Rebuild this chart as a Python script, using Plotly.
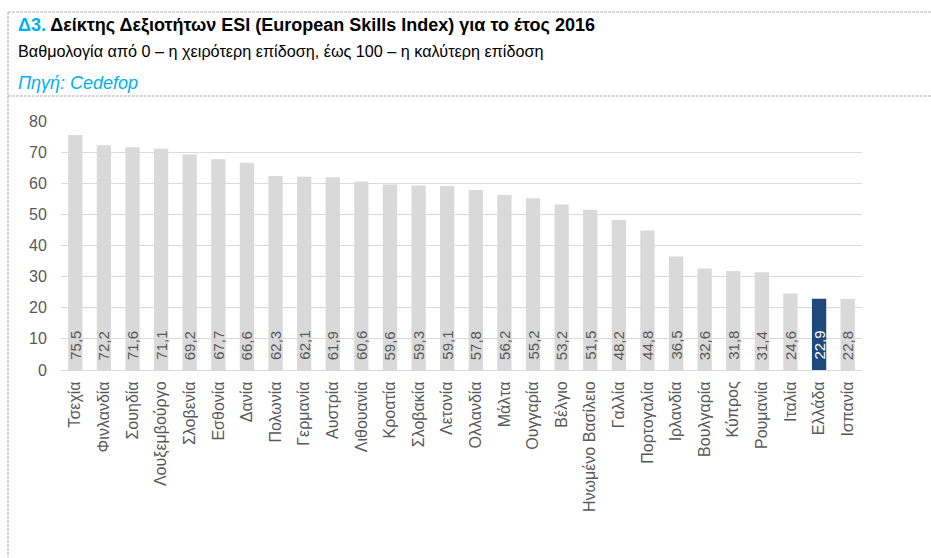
import plotly.graph_objects as go

countries = ["Τσεχία", "Φινλανδία", "Σουηδία", "Λουξεμβούργο", "Σλοβενία", "Εσθονία", "Δανία",
             "Πολωνία", "Γερμανία", "Αυστρία", "Λιθουανία", "Κροατία", "Σλοβακία", "Λετονία",
             "Ολλανδία", "Μάλτα", "Ουγγαρία", "Βέλγιο", "Ηνωμένο Βασίλειο", "Γαλλία", "Πορτογαλία",
             "Ιρλανδία", "Βουλγαρία", "Κύπρος", "Ρουμανία", "Ιταλία", "Ελλάδα", "Ισπανία"]
values = [75.5, 72.2, 71.6, 71.1, 69.2, 67.7, 66.6, 62.3, 62.1, 61.9, 60.6, 59.6, 59.3, 59.1,
          57.8, 56.2, 55.2, 53.2, 51.5, 48.2, 44.8, 36.5, 32.6, 31.8, 31.4, 24.6, 22.9, 22.8]
highlight = "Ελλάδα"
y_ticks = [0, 10, 20, 30, 40, 50, 60, 70, 80]

W, H = 931, 558
L, R, T, B = 61, 862, 121, 370

colors = ["#1F497D" if c == highlight else "#D9D9D9" for c in countries]
text_colors = ["#FFFFFF" if c == highlight else "#595959" for c in countries]
labels = [f"{v:.1f}".replace(".", ",") for v in values]

fig = go.Figure(go.Bar(
    x=countries, y=values, marker_color=colors, marker_line_width=0,
    hoverinfo="x+y",
))

def px_x(p):
    return (p - L) / (R - L)

def px_y(p):
    return (B - p) / (B - T)

dash = dict(color="#B0B0B0", width=1, dash="3px,1px")
shapes = [
    dict(type="line", xref="paper", yref="paper", x0=px_x(8), x1=px_x(931), y0=px_y(12), y1=px_y(12), line=dash),
    dict(type="line", xref="paper", yref="paper", x0=px_x(8), x1=px_x(931), y0=px_y(96), y1=px_y(96), line=dash),
    dict(type="line", xref="paper", yref="paper", x0=px_x(8), x1=px_x(8), y0=px_y(12), y1=px_y(558), line=dash),
]

annotations = [
    dict(xref="paper", yref="paper", x=px_x(16), y=px_y(25), xanchor="left", yanchor="middle",
         showarrow=False, align="left",
         text="<span style='color:#00B0F0'><b>Δ3.</b></span><b> Δείκτης Δεξιοτήτων ESI (European Skills Index) για το έτος 2016</b>",
         font=dict(family="Liberation Sans", size=18, color="#000000")),
    dict(xref="paper", yref="paper", x=px_x(16), y=px_y(51), xanchor="left", yanchor="middle",
         showarrow=False, align="left",
         text="Βαθμολογία από 0 – η χειρότερη επίδοση, έως 100 – η καλύτερη επίδοση",
         font=dict(family="Liberation Sans", size=16.2, color="#000000")),
    dict(xref="paper", yref="paper", x=px_x(16), y=px_y(83), xanchor="left", yanchor="middle",
         showarrow=False, align="left",
         text="<i>Πηγή: Cedefop</i>",
         font=dict(family="Liberation Sans", size=18, color="#00B0F0")),
]

for c, lab, tc in zip(countries, labels, text_colors):
    annotations.append(dict(
        x=c, y=0, xref="x", yref="y", text=lab, textangle=-90, showarrow=False,
        xanchor="center", yanchor="bottom", yshift=8,
        font=dict(family="Liberation Sans", size=15, color=tc),
    ))

fig.update_layout(
    width=W, height=H,
    margin=dict(l=L, r=W - R, t=T, b=H - B, pad=0),
    paper_bgcolor="white", plot_bgcolor="white",
    bargap=0.5, showlegend=False,
    shapes=shapes, annotations=annotations,
    xaxis=dict(tickangle=-90, tickfont=dict(family="Liberation Sans", size=16, color="#595959"),
               showgrid=False, showline=True, linecolor="#D9D9D9", linewidth=1, ticks="outside",
               ticklen=4, tickcolor="white", fixedrange=True),
    yaxis=dict(range=[0, 80], tickvals=y_ticks, tickfont=dict(family="Liberation Sans", size=16, color="#595959"),
               showgrid=True, gridcolor="#D9D9D9", gridwidth=1, zeroline=False, showline=False,
               ticks="outside", ticklen=10, tickcolor="white", fixedrange=True),
)

fig.write_html("out.html")
